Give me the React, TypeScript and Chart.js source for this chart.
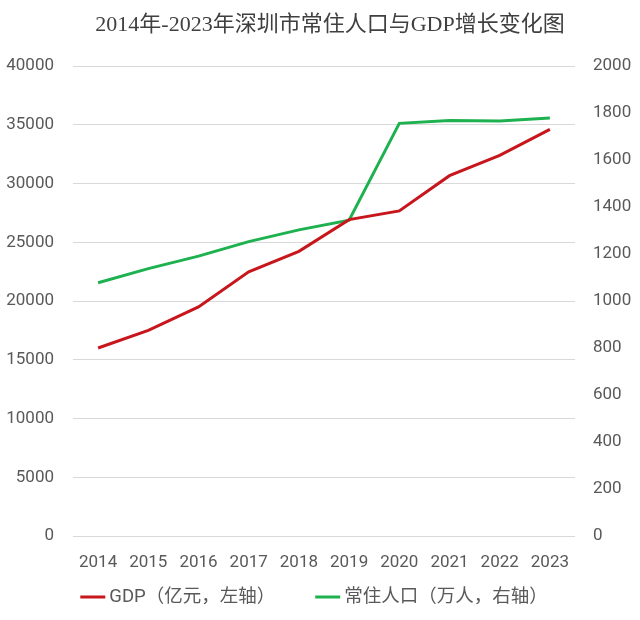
import React, { useEffect, useRef } from "react";
import { Chart, registerables } from "chart.js";

Chart.register(...registerables);

const years = ["2014", "2015", "2016", "2017", "2018", "2019", "2020", "2021", "2022", "2023"];
const gdp = [16002, 17503, 19493, 22490, 24222, 26927, 27670, 30665, 32388, 34606];
const population = [1077.89, 1137.87, 1190.84, 1252.83, 1302.66, 1343.88, 1756.01, 1768.16, 1766.18, 1779.01];
const titleText = "2014年-2023年深圳市常住人口与GDP增长变化图";
const gdpLabel = "GDP（亿元，左轴）";
const popLabel = "常住人口（万人，右轴）";

const RED = "#c8161d";
const GREEN = "#1db14f";
const TICK = "#595959";
const FONT = "Roboto, 'Noto Sans CJK SC', sans-serif";

const LEG_FONT_SIZE = 18.5;
const LEG_BOX_W = 25;
const LEG_BOX_H = 3;
const LEG_TEXT_GAP = 4;
const LEG_ITEM_GAP = 40;

const customLegend = {
  id: "customLegend",
  afterDraw(chart: any) {
    const ctx = chart.ctx as CanvasRenderingContext2D;
    ctx.save();
    ctx.font = `${LEG_FONT_SIZE}px ${FONT}`;
    ctx.textBaseline = "middle";
    ctx.textAlign = "left";
    const items = chart.data.datasets.map((ds: any) => ({
      text: ds.label as string,
      color: ds.borderColor as string,
      w: ctx.measureText(ds.label).width,
    }));
    const total =
      items.reduce((s: number, it: any) => s + LEG_BOX_W + LEG_TEXT_GAP + it.w, 0) +
      LEG_ITEM_GAP * (items.length - 1);
    let x = 314 - total / 2;
    const y = chart.chartArea.bottom + 61;
    for (const it of items) {
      ctx.fillStyle = it.color;
      ctx.fillRect(x, y - LEG_BOX_H / 2, LEG_BOX_W, LEG_BOX_H);
      ctx.fillStyle = TICK;
      ctx.fillText(it.text, x + LEG_BOX_W + LEG_TEXT_GAP, y);
      x += LEG_BOX_W + LEG_TEXT_GAP + it.w + LEG_ITEM_GAP;
    }
    ctx.restore();
  },
};

export default function App() {
  const ref = useRef<HTMLCanvasElement | null>(null);

  useEffect(() => {
    document.body.style.margin = "0";
    const canvas = ref.current;
    if (!canvas) return;
    const chart = new Chart(canvas, {
      type: "line",
      data: {
        labels: years,
        datasets: [
          {
            label: gdpLabel,
            data: gdp,
            borderColor: RED,
            backgroundColor: RED,
            borderWidth: 3,
            pointRadius: 0,
            tension: 0,
            yAxisID: "y",
          },
          {
            label: popLabel,
            data: population,
            borderColor: GREEN,
            backgroundColor: GREEN,
            borderWidth: 3,
            pointRadius: 0,
            tension: 0,
            yAxisID: "y1",
          },
        ],
      },
      plugins: [customLegend],
      options: {
        responsive: false,
        animation: false,
        layout: { padding: { left: 0, right: -20, top: 0, bottom: 0 } },
        plugins: {
          title: {
            display: true,
            text: titleText,
            color: "#404040",
            font: { family: "'Liberation Serif', 'DejaVu Serif', 'Noto Sans CJK SC', serif", size: 22, weight: "normal" },
            padding: { top: 12.5, bottom: 27.1 },
          },
          legend: { display: false },
          tooltip: { enabled: false },
        },
        scales: {
          x: {
            offset: true,
            grid: { display: false, drawTicks: false },
            border: { display: false },
            ticks: { color: TICK, font: { family: FONT, size: 17 }, padding: 17, maxRotation: 0 },
            afterFit: (s: any) => {
              s.height = 84;
            },
          },
          y: {
            position: "left",
            min: 0,
            max: 40000,
            grid: { color: "#d9d9d9", lineWidth: 1, drawTicks: false },
            border: { display: false },
            ticks: {
              stepSize: 5000,
              color: TICK,
              font: { family: FONT, size: 17 },
              padding: 19,
              callback: (v: any) => String(v),
            },
            afterFit: (s: any) => {
              s.width = 73;
            },
          },
          y1: {
            position: "right",
            min: 0,
            max: 2000,
            grid: { display: false, drawTicks: false },
            border: { display: false },
            ticks: {
              stepSize: 200,
              color: TICK,
              font: { family: FONT, size: 17 },
              padding: 18,
              callback: (v: any) => String(v),
            },
            afterFit: (s: any) => {
              s.width = 85;
            },
          },
        },
      },
    });
    return () => chart.destroy();
  }, []);

  return (
    <div style={{ width: 640, height: 620, background: "#fff" }}>
      <canvas ref={ref} width={640} height={620} />
    </div>
  );
}
